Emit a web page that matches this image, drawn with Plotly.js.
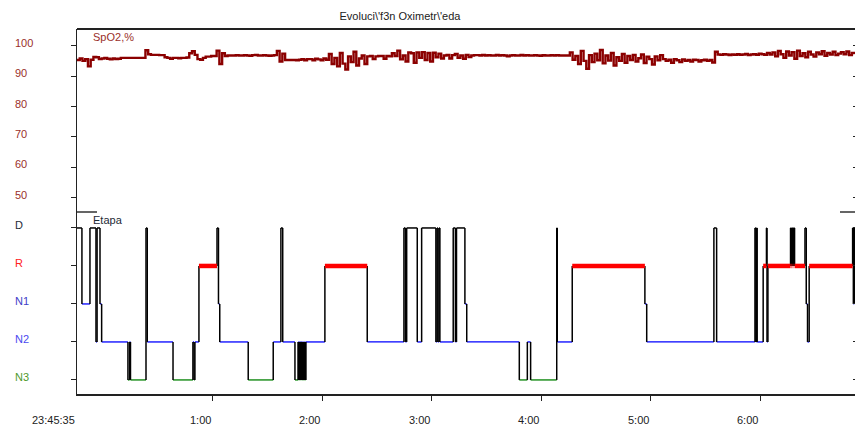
<!DOCTYPE html>
<html><head><meta charset="utf-8">
<script src="https://cdn.plot.ly/plotly-3.0.1.min.js"></script>
<style>html,body{margin:0;padding:0;overflow:hidden;background:#fff}#chart{width:857px;height:427px}</style>
</head><body><div id="chart"></div>
<script>
// ---- data ----
const chartTitle = "Evoluci\\'f3n Oximetr\\'eda";
const spo2Label = 'SpO2,%';
const stageLabel = 'Etapa';
// recording start 23:45:35, samples every 1.5 min
const spo2StepMin = 1.5;
const spo2Values = [
 95.3,95.8,95.0,95.6,93.2,95.4,96.3,96.2,95.6,95.8,96.0,95.7,95.5,95.8,95.6,95.7,96.0,96.0,96.0,96.0,96.0,96.0,96.0,96.0,96.0,
 98.5,
 97.2,97.0,97.0,97.0,96.9,96.9,96.2,96.0,95.7,
 96.0,96.0,95.9,96.0,96.0,96.1,97.5,98.2,97.0,
 95.6,95.4,96.0,96.4,96.4,96.6,96.6,
 98.4,94.0,97.5,
 96.6,96.8,96.8,96.8,96.9,96.8,96.8,96.9,96.8,96.7,96.9,97.0,96.8,96.8,96.9,96.8,96.7,96.8,96.9,
 98.3,94.8,97.4,
 95.3,95.3,95.3,95.3,95.2,95.4,
 95.6,95.2,95.6,95.6,95.2,95.7,95.5,95.2,95.8,95.4,
 97.3,94.0,
 96.0,93.2,97.6,94.1,92.2,96.5,94.6,98.0,93.5,95.8,96.8,94.0,
 96.5,96.6,95.6,96.5,96.6,96.6,95.7,96.6,96.5,97.5,96.6,
 98.4,95.5,96.8,94.8,97.8,
 97.5,94.4,97.8,96.0,97.9,95.3,97.6,94.8,97.7,96.2,97.4,95.8,
 96.8,97.0,95.8,96.9,97.3,96.0,96.8,95.7,97.0,96.3,
 96.8,96.9,96.9,96.8,97.0,96.8,96.9,96.8,96.8,97.0,96.8,96.9,96.8,96.5,96.8,96.9,96.8,96.8,97.0,96.8,96.9,96.8,96.8,96.9,96.8,96.7,96.9,96.8,96.8,96.9,96.8,96.9,96.8,96.8,96.8,96.8,
 97.8,95.4,96.6,94.0,98.3,95.0,92.4,96.9,94.6,97.4,95.2,98.6,94.2,96.8,95.1,97.6,93.5,96.2,95.0,97.3,94.4,96.6,95.3,97.0,94.8,95.9,97.1,94.3,96.4,95.6,93.8,96.5,95.2,96.9,95.6,
 95.0,95.4,94.4,95.6,95.2,94.6,95.5,95.0,95.3,94.8,95.4,95.3,94.8,95.2,95.4,95.0,95.3,94.5,
 98.0,
 97.1,97.0,97.2,97.1,96.9,97.1,97.0,97.2,97.0,97.1,97.3,96.9,97.1,97.2,97.0,97.4,97.2,97.0,97.6,97.1,
 97.8,96.5,98.3,97.2,96.0,98.1,96.8,97.9,95.7,98.4,96.6,97.5,96.2,98.0,97.1,96.4,97.8,97.2,98.2,96.7,97.6,97.1,98.0,96.9,97.4,97.9,97.2,98.1,96.9,97.6,97.3
];
// hypnogram: stage changes, minutes after 23:45:35
const stageOrder = ['N3','N2','N1','R','D'];
const hypMin = [0,2.7,7.1,10.4,11.0,12.6,13.5,27.9,28.8,29.3,37.8,38.5,52.6,63.5,64.1,64.6,66.8,76.7,77.5,78.2,
 93.8,107.5,111.7,112.7,119.4,121.1,121.4,121.6,121.9,122.2,122.5,122.7,123.0,123.2,123.5,123.8,124.0,124.3,124.6,124.9,125.1,125.4,135.8,159.0,
 179.1,179.9,180.6,186.4,188.8,196.6,197.2,197.7,198.3,198.8,206.1,207.3,207.9,212.5,213.5,
 242.3,246.7,248.5,262.8,263.1,271.3,311.1,312.1,348.9,350.4,371.4,371.9,372.3,372.6,375.9,377.7,378.0,378.5,
 390.9,391.4,391.9,392.5,392.7,393.1,398.8,399.5,400.2,401.1,424.9,425.3,425.8];
const hypStage = ['D','N1','D','N2','D','N1','N2','N3','N2','N3','D','N2','N3','N2','N3','N2','R','D','N1','N2',
 'N3','N2','D','N2','N3','N2','N3','N2','N3','N2','N3','N2','N3','N2','N3','N2','N3','N2','N3','N2','N3','N2','R','N2',
 'D','N2','D','N2','D','N2','D','N2','D','N2','D','N2','D','N1','N2',
 'N3','N2','N3','D','N2','R','N1','N2','D','N2','D','N2','D','N2','R','D','N2','R',
 'D','R','D','R','D','R','D','N1','N2','R','D','N1','D'];
const hypEndMin = 427.3;
const spo2TickVals = [50,60,70,80,90,100];
const spo2TickText = ['50','60','70','80','90','100'];
const stageTickText = ['N3','N2','N1','R','D'];
const stageTickColors = ['#4f9a2c','#4a4af0','#4040c8','#ff2020','#1e2a36'];
const timeTickVals = ['2020-01-01 23:45:35','2020-01-02 01:00:00','2020-01-02 02:00:00','2020-01-02 03:00:00','2020-01-02 04:00:00','2020-01-02 05:00:00','2020-01-02 06:00:00'];
const timeTickText = ['23:45:35','1:00','2:00','3:00','4:00','5:00','6:00'];

// ---- build ----
const base = Date.UTC(2020,0,1,23,45,35);
function p2(n){return (n<10?'0':'')+n;}
function tAt(min){
  const d = new Date(base + Math.round(min*60000));
  return d.getUTCFullYear()+'-'+p2(d.getUTCMonth()+1)+'-'+p2(d.getUTCDate())+' '+p2(d.getUTCHours())+':'+p2(d.getUTCMinutes())+':'+p2(d.getUTCSeconds());
}
const spo2X = spo2Values.map((v,i)=>tAt(i*spo2StepMin));
const sv = s => stageOrder.indexOf(s);

// black: vertical transitions + wake (D) horizontals; coloured: other horizontals
const seg = {black:{x:[],y:[]}, blue:{x:[],y:[]}, green:{x:[],y:[]}, red:{x:[],y:[]}};
for(let i=0;i<hypStage.length;i++){
  const s = hypStage[i];
  const t0 = tAt(hypMin[i]);
  const t1 = tAt(i+1<hypMin.length?hypMin[i+1]:hypEndMin);
  if(i>0){ seg.black.x.push(t0,t0,null); seg.black.y.push(sv(hypStage[i-1]),sv(s),null); }
  let k = 'black';
  if(s==='N1'||s==='N2') k='blue'; else if(s==='N3') k='green'; else if(s==='R') k='red';
  seg[k].x.push(t0,t1,null); seg[k].y.push(sv(s),sv(s),null);
}

const traces = [
  {x:spo2X, y:spo2Values, type:'scatter', mode:'lines', line:{color:'#8b0000', width:2.4, shape:'hv'}, xaxis:'x', yaxis:'y', hoverinfo:'skip'},
  {x:seg.blue.x, y:seg.blue.y, type:'scatter', mode:'lines', line:{color:'#0000ff', width:1.3}, xaxis:'x', yaxis:'y2', hoverinfo:'skip'},
  {x:seg.green.x, y:seg.green.y, type:'scatter', mode:'lines', line:{color:'#008000', width:1.3}, xaxis:'x', yaxis:'y2', hoverinfo:'skip'},
  {x:seg.black.x, y:seg.black.y, type:'scatter', mode:'lines', line:{color:'#000', width:1.5}, xaxis:'x', yaxis:'y2', hoverinfo:'skip'},
  {x:seg.red.x, y:seg.red.y, type:'scatter', mode:'lines', line:{color:'#ff0000', width:4.5}, xaxis:'x', yaxis:'y2', hoverinfo:'skip'}
];

const W = 857, H = 427, ML = 77, MT = 29, MB = 33;
const PW = W - ML, PH = H - MT - MB;
const splitY = 212; // pixel separating the two panels
const split = (H - MB - splitY)/PH;
const font = 'Liberation Sans, Arial, sans-serif';
const axCommon = {showgrid:false, zeroline:false, fixedrange:true};

const annotations = [];
spo2TickVals.forEach((v,i)=>annotations.push({xref:'paper', yref:'y', x:(13-ML)/PW, y:v, xanchor:'left', yanchor:'middle', yshift:3, showarrow:false, text:spo2TickText[i], font:{family:font, size:11, color:'#9a2f2a'}}));
stageTickText.forEach((t,i)=>annotations.push({xref:'paper', yref:'y2', x:(13-ML)/PW, y:i, xanchor:'left', yanchor:'middle', yshift:3, showarrow:false, text:t, font:{family:font, size:11, color:stageTickColors[i]}}));
timeTickVals.forEach((t,i)=>annotations.push({xref:'x', yref:'paper', x:t, y:0, xanchor:'right', yanchor:'middle', yshift:-26, showarrow:false, text:timeTickText[i], font:{family:font, size:11, color:'#222'}}));
annotations.push({xref:'paper', yref:'paper', x:(91-ML)/PW, y:(H-MB-37)/PH, xanchor:'left', yanchor:'middle', showarrow:false, text:spo2Label, font:{family:font, size:11, color:'#9a2f2a'}});
annotations.push({xref:'paper', yref:'paper', x:(91-ML)/PW, y:(H-MB-219.5)/PH, xanchor:'left', yanchor:'middle', showarrow:false, text:stageLabel, font:{family:font, size:11, color:'#1e2a36'}});

const layout = {
  width:W, height:H,
  margin:{l:ML, r:0, t:MT, b:MB, pad:0},
  paper_bgcolor:'#fff', plot_bgcolor:'#fff',
  showlegend:false,
  title:{text:chartTitle, xref:'container', yref:'container', x:400/W, y:1-16/H, xanchor:'center', yanchor:'middle', font:{family:font, size:11, color:'#222'}},
  xaxis:Object.assign({}, axCommon, {type:'date', anchor:'y2', range:[tAt(0), tAt(hypEndMin)], showline:true, linecolor:'#222', linewidth:1.5, ticks:'outside', ticklen:5, tickcolor:'#222', tickwidth:1, tickvals:timeTickVals.slice(1), showticklabels:false}),
  yaxis:Object.assign({}, axCommon, {domain:[split,1], range:[45.3,105.5], showline:true, linecolor:'#222', linewidth:1.5, ticks:'outside', ticklen:5, tickcolor:'#222', tickvals:spo2TickVals, showticklabels:false}),
  yaxis2:Object.assign({}, axCommon, {domain:[0,split], range:[-0.37,4.42], showline:true, linecolor:'#222', linewidth:1.5, ticks:'outside', ticklen:5, tickcolor:'#222', tickvals:[0,1,2,3,4], showticklabels:false}),
  yaxis3:Object.assign({}, axCommon, {overlaying:'y', side:'right', anchor:'x', range:[45.3,105.5], showline:false, ticks:'inside', ticklen:4, tickcolor:'#222', tickvals:spo2TickVals, showticklabels:false}),
  yaxis4:Object.assign({}, axCommon, {overlaying:'y2', side:'right', anchor:'x', range:[-0.37,4.42], showline:false, ticks:'inside', ticklen:4, tickcolor:'#222', tickvals:[0,1,2,3,4], showticklabels:false}),
  shapes:[
    {type:'line', xref:'paper', yref:'paper', x0:0, x1:1, y0:1, y1:1, line:{color:'#222', width:2}},
    {type:'line', xref:'paper', yref:'paper', x0:0, x1:(97-ML)/PW, y0:split, y1:split, line:{color:'#111', width:1.3}},
    {type:'line', xref:'paper', yref:'paper', x0:(840-ML)/PW, x1:1, y0:split, y1:split, line:{color:'#111', width:1.3}}
  ],
  annotations:annotations
};
// invisible traces to activate right-side tick axes
traces.push({x:[tAt(0)], y:[null], xaxis:'x', yaxis:'y3', type:'scatter', mode:'lines', hoverinfo:'skip'});
traces.push({x:[tAt(0)], y:[null], xaxis:'x', yaxis:'y4', type:'scatter', mode:'lines', hoverinfo:'skip'});

Plotly.newPlot('chart', traces, layout, {displayModeBar:false, staticPlot:true});
</script></body></html>
